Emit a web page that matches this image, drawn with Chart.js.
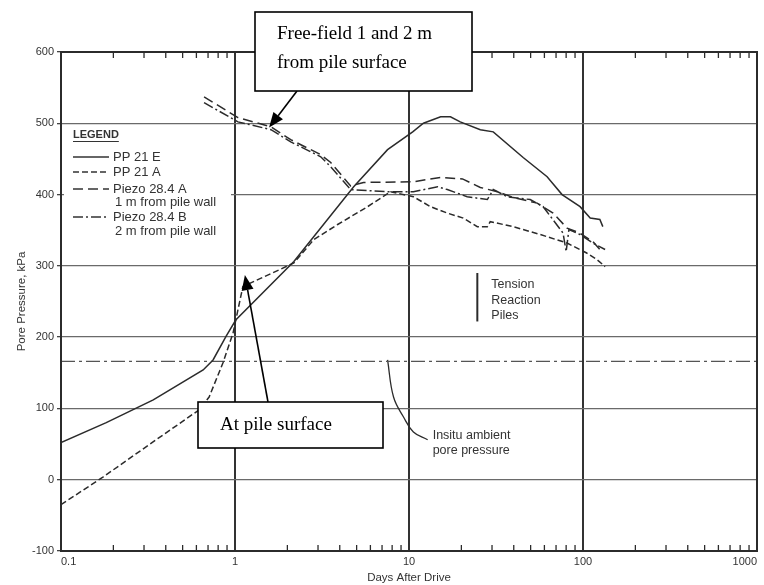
<!DOCTYPE html>
<html><head><meta charset="utf-8">
<script src="https://cdn.jsdelivr.net/npm/chart.js@4/dist/chart.umd.min.js"></script>
<style>html,body{margin:0;padding:0;background:#fff;}</style>
</head><body>
<canvas id="c" width="764" height="585"></canvas>
<script>
// ---- data ----
const xDecadeLabels = ["0.1","1","10","100","1000"];
const yTickValues = [-100,0,100,200,300,400,500,600];

const ppE_days = [0.1,0.182,0.339,0.656,0.748,0.888,1.01,2.18,4.81,7.53,10.5,12.1,15.2,17.3,19.7,25.7,30.5,45.3,62.2,75.8,96.2,110,125,130];
const ppE_kpa  = [52,80,112,154,168,201,224,306,411,463,488,500,509,509,502,491,488,452,425,400,383,367,365,355];

const ppA_days = [0.1,0.175,0.352,0.622,0.71,0.853,0.975,1.11,2.18,2.84,3.89,5.78,7.84,10.6,13.3,16.6,20.5,24.7,28.2,29.3,39.7,56.7,81,105,120,134];
const ppA_kpa  = [-35,4,56,98,116,164,206,271,304,337,358,383,404,397,383,374,367,355,355,362,355,344,332,318,309,299];

const pzA_days = [0.664,1.04,1.61,2.09,3.11,3.55,4.62,5.48,10.6,15.2,20.3,25.7,32.2,39.7,54.5,67.3,81,96,114,130];
const pzA_kpa  = [537,508,495,477,456,445,412,417,418,424,422,410,404,396,388,374,353,346,334,318];

const pzB_days = [0.664,1.04,1.61,2.09,3.11,3.55,4.62,7.53,10.6,14.6,16.6,21.6,28.2,30.5,36.7,49.7,59,76.8,80,83,96,114,134];
const pzB_kpa  = [529,502,491,474,453,439,407,404,404,411,407,397,393,407,397,393,383,346,320,351,344,332,323];

const ambient_days = [0.1,1000];
const ambient_kpa  = [166,166];

const leader_days = [7.53,8.15,9.30,10.6,12.8];
const leader_kpa  = [168,116,88,67,56];

const tension_days = [24.7,24.7];
const tension_kpa  = [222,290];

const legendLabels = ["PP 21 E","PP 21 A","Piezo 28.4 A","1 m from pile wall","Piezo 28.4 B","2 m from pile wall"];

// ---- build ----
const pts = (xs,ys)=>xs.map((x,i)=>({x:x,y:ys[i]}));
const INK = '#2b2b2b';
const dashes = {E:[], A:[6,3], PA:[10,5], PB:[10,3,2,3]};

function ds(label, xs, ys, dash, width, extra){
  return Object.assign({label, data:pts(xs,ys), borderColor:INK, borderWidth:width||1.4,
    borderDash:dash, pointRadius:0, tension:0, fill:false}, extra||{});
}

const isDecade = v => Math.abs(Math.log10(v) - Math.round(Math.log10(v))) < 1e-9;

const decor = {
  id:'decor',
  beforeDatasetsDraw(chart){
    const ctx = chart.ctx;
    ctx.save();
    ctx.fillStyle = '#fff';
    ctx.fillRect(64,126,167,114);
    ctx.restore();
  },
  afterDraw(chart){
    const ctx = chart.ctx, a = chart.chartArea;
    const xs = chart.scales.x, ys = chart.scales.y;
    ctx.save();
    // frame
    ctx.strokeStyle = INK; ctx.lineWidth = 2;
    ctx.strokeRect(a.left, a.top, a.right-a.left, a.bottom-a.top);
    // minor ticks inward (top & bottom)
    ctx.lineWidth = 1.3;
    for (let k=-1;k<=2;k++){
      for (let m=2;m<=9;m++){
        const px = xs.getPixelForValue(m*Math.pow(10,k));
        ctx.beginPath(); ctx.moveTo(px,a.bottom); ctx.lineTo(px,a.bottom-6); ctx.stroke();
        ctx.beginPath(); ctx.moveTo(px,a.top); ctx.lineTo(px,a.top+6); ctx.stroke();
      }
    }
    // legend
    ctx.fillStyle = '#333'; ctx.strokeStyle = '#333';
    ctx.font = 'bold 11px "Liberation Sans", Arial, sans-serif';
    ctx.textBaseline = 'middle'; ctx.textAlign = 'left';
    ctx.fillText('LEGEND', 73, 135);
    const lw = ctx.measureText('LEGEND').width;
    ctx.lineWidth = 1; ctx.beginPath(); ctx.moveTo(73,141.5); ctx.lineTo(73+lw,141.5); ctx.stroke();
    ctx.font = '13px "Liberation Sans", Arial, sans-serif';
    const rows = [[157,dashes.E,0],[172,dashes.A,1],[189,dashes.PA,2],[202,null,3],[217,dashes.PB,4],[231,null,5]];
    rows.forEach(r=>{
      if (r[1]){
        ctx.setLineDash(r[1]); ctx.lineWidth = 1.4;
        ctx.beginPath(); ctx.moveTo(73,r[0]); ctx.lineTo(109,r[0]); ctx.stroke();
        ctx.setLineDash([]);
        ctx.fillText(legendLabels[r[2]], 113, r[0]);
      } else {
        ctx.fillText(legendLabels[r[2]], 115, r[0]);
      }
    });
    // Tension reaction piles text
    ctx.font = '12.5px "Liberation Sans", Arial, sans-serif';
    const tx = xs.getPixelForValue(24.7) + 14;
    ctx.fillText('Tension', tx, 285);
    ctx.fillText('Reaction', tx, 301);
    ctx.fillText('Piles', tx, 316);
    // insitu text
    const ix = xs.getPixelForValue(12.8) + 5, iy = ys.getPixelForValue(56);
    ctx.fillText('Insitu ambient', ix, iy-4);
    ctx.fillText('pore pressure', ix, iy+11);

    // annotation boxes
    function box(x,y,w,h){
      ctx.fillStyle='#fff'; ctx.fillRect(x,y,w,h);
      ctx.strokeStyle='#000'; ctx.lineWidth=1.6; ctx.strokeRect(x,y,w,h);
    }
    function arrow(x1,y1,x2,y2){
      ctx.strokeStyle='#000'; ctx.fillStyle='#000'; ctx.lineWidth=1.6;
      const ang = Math.atan2(y2-y1,x2-x1), L=15, W=6;
      const bx = x2 - L*Math.cos(ang), by = y2 - L*Math.sin(ang);
      ctx.beginPath(); ctx.moveTo(x1,y1); ctx.lineTo(bx,by); ctx.stroke();
      ctx.beginPath(); ctx.moveTo(x2,y2);
      ctx.lineTo(bx + W*Math.sin(ang), by - W*Math.cos(ang));
      ctx.lineTo(bx - W*Math.sin(ang), by + W*Math.cos(ang));
      ctx.closePath(); ctx.fill();
    }
    arrow(297,91, xs.getPixelForValue(1.57), ys.getPixelForValue(494));
    box(255,12,217,79);
    ctx.fillStyle='#000';
    ctx.font = '19px "Liberation Serif", "Times New Roman", serif';
    ctx.textAlign='left'; ctx.textBaseline='middle';
    ctx.fillText('Free-field 1 and 2 m', 277, 34);
    ctx.fillText('from pile surface', 277, 63);
    arrow(268,402, xs.getPixelForValue(1.14), ys.getPixelForValue(287));
    box(198,402,185,46);
    ctx.fillStyle='#000';
    ctx.fillText('At pile surface', 220, 425);
    ctx.restore();
  }
};

new Chart(document.getElementById('c'), {
  type:'line',
  data:{ datasets:[
    ds('PP 21 E', ppE_days, ppE_kpa, dashes.E, 1.5),
    ds('PP 21 A', ppA_days, ppA_kpa, dashes.A, 1.5),
    ds('Piezo 28.4 A', pzA_days, pzA_kpa, dashes.PA, 1.5),
    ds('Piezo 28.4 B', pzB_days, pzB_kpa, dashes.PB, 1.5),
    ds('Insitu ambient', ambient_days, ambient_kpa, [14,4,3,4], 1.2, {borderColor:'#555'}),
    ds('leader', leader_days, leader_kpa, [], 1.3, {tension:0.4}),
    ds('Tension', tension_days, tension_kpa, [], 2),
  ]},
  options:{
    responsive:false, animation:false, devicePixelRatio:1,
    layout:{padding:{top:52,right:7,left:0,bottom:0}},
    plugins:{legend:{display:false}, tooltip:{enabled:false}},
    scales:{
      x:{
        type:'logarithmic', min:0.1, max:1000,
        afterBuildTicks(scale){
          const t=[];
          for(let k=-1;k<=2;k++) for(let m=1;m<=9;m++) t.push({value:Number((m*Math.pow(10,k)).toPrecision(3))});
          t.push({value:1000});
          scale.ticks=t;
        },
        afterFit(scale){ scale.height=34; scale.paddingLeft=0; scale.paddingRight=0; },
        ticks:{ autoSkip:false, maxRotation:0, padding:4, color:'#333', align:'inner',
          font:{family:'"Liberation Sans", Arial, sans-serif', size:11},
          callback:(v)=> isDecade(v) ? xDecadeLabels[Math.round(Math.log10(v))+1] : '' },
        grid:{ drawTicks:false,
          color:(c)=>{ const v=c.tick&&c.tick.value; return (v && isDecade(v) && v>0.1 && v<1000)?'#333':'rgba(0,0,0,0)'; },
          lineWidth:2 },
        border:{display:true,color:INK,width:2},
        title:{display:true,text:'Days After Drive',color:'#333',padding:{top:0,bottom:0},
          font:{family:'"Liberation Sans", Arial, sans-serif', size:11.5}}
      },
      y:{
        type:'linear', min:-100, max:600,
        afterBuildTicks(scale){ scale.ticks = yTickValues.map(v=>({value:v})); },
        afterFit(scale){ scale.width=61; scale.paddingTop=0; scale.paddingBottom=0; },
        ticks:{ color:'#333', padding:3, font:{family:'"Liberation Sans", Arial, sans-serif', size:11} },
        grid:{ color:(c)=>{ const v=c.tick&&c.tick.value; return (v===-100||v===600)?'rgba(0,0,0,0)':'#6a6a6a'; },
          lineWidth:1.3, tickLength:4, tickColor:'#444' },
        border:{display:true,color:INK,width:2},
        title:{display:true,text:'Pore Pressure, kPa',color:'#333',padding:{top:15,bottom:0},
          font:{family:'"Liberation Sans", Arial, sans-serif', size:11.5}}
      }
    }
  },
  plugins:[decor]
});
</script>
</body></html>
